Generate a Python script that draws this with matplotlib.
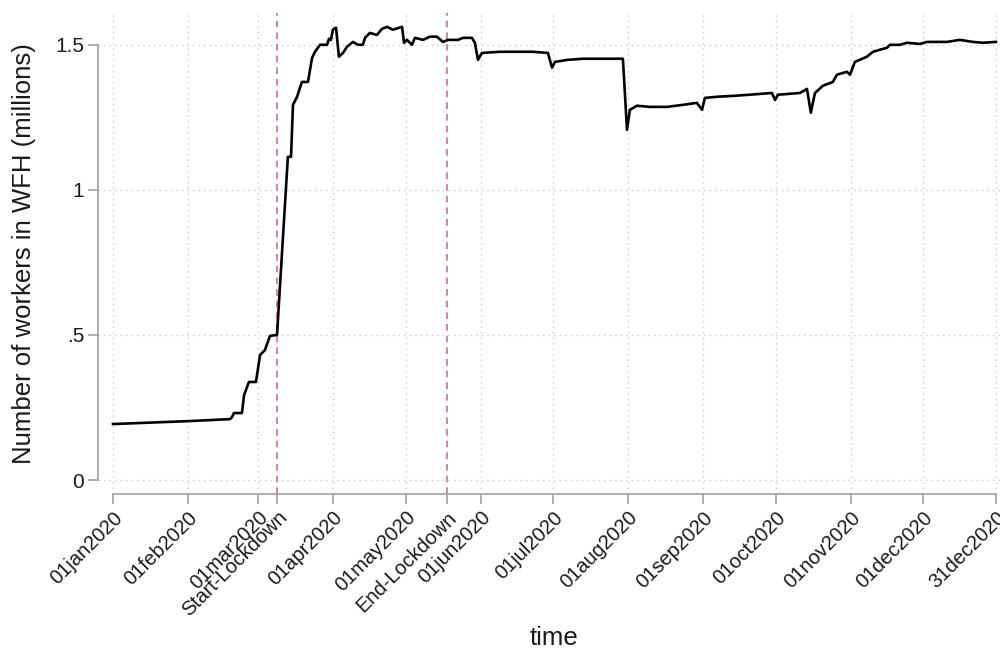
import numpy as np
import pandas as pd
import matplotlib
matplotlib.use("Agg")
import matplotlib.pyplot as plt

plt.rcParams['font.family'] = ['Liberation Sans', 'DejaVu Sans']

# --- data (days since 01jan2020, millions of WFH workers) ---
day = [0, 31, 48.4, 49.2, 50, 53.3, 54.2, 56.2, 59.1, 60.8, 62.8, 64.9, 67.8,
       72.3, 73.6, 74.4, 76.1, 78.1, 80.6, 82.3, 83.5, 85.6, 88.5, 89.3, 90.1,
       90.9, 92.2, 93.4, 95.1, 96.7, 99.2, 101.3, 103.3, 104.2, 106.2, 109.1,
       111.2, 113.3, 115.7, 119.5, 120.3, 121.5, 123.6, 124.8, 128.2, 131.0,
       133.9, 136.4, 138.5, 142.6, 144.7, 148.4, 149.6, 150.9, 152.5, 160.0,
       167.0, 173.6, 179.8, 181.5, 182.7, 187.7, 194.3, 210.8, 212.5, 213.7,
       216.6, 222.0, 229.0, 235.6, 241.4, 243.5, 244.7, 249.7, 256.3, 263.3,
       272.4, 273.7, 274.9, 284.0, 286.9, 288.5, 290.2, 293.5, 297.6, 299.3,
       303.4, 304.7, 306.7, 311.7, 314.2, 320.0, 321.2, 325.3, 328.2, 333.6,
       336.5, 344.8, 350.1, 355.5, 359.6, 365]
wfh = [0.193, 0.203, 0.210, 0.217, 0.231, 0.231, 0.293, 0.338, 0.338, 0.431,
       0.448, 0.497, 0.500, 1.114, 1.114, 1.293, 1.321, 1.372, 1.372, 1.455,
       1.476, 1.500, 1.500, 1.521, 1.517, 1.552, 1.559, 1.459, 1.472, 1.493,
       1.510, 1.500, 1.500, 1.524, 1.541, 1.534, 1.555, 1.562, 1.552, 1.562,
       1.507, 1.517, 1.500, 1.524, 1.517, 1.528, 1.528, 1.510, 1.517, 1.517,
       1.524, 1.524, 1.507, 1.448, 1.472, 1.476, 1.476, 1.476, 1.472, 1.421,
       1.441, 1.448, 1.452, 1.452, 1.207, 1.276, 1.290, 1.286, 1.286, 1.293,
       1.300, 1.276, 1.317, 1.321, 1.324, 1.328, 1.334, 1.310, 1.328, 1.334,
       1.348, 1.266, 1.334, 1.359, 1.372, 1.397, 1.407, 1.397, 1.441, 1.459,
       1.476, 1.490, 1.500, 1.500, 1.507, 1.503, 1.510, 1.510, 1.517, 1.510,
       1.507, 1.510]

tick_dates = ['2020-01-01', '2020-02-01', '2020-03-01', '2020-04-01', '2020-05-01',
              '2020-06-01', '2020-07-01', '2020-08-01', '2020-09-01', '2020-10-01',
              '2020-11-01', '2020-12-01', '2020-12-31']
lockdown_dates = ['2020-03-09', '2020-05-18']
lockdown_labels = ['Start-Lockdown', 'End-Lockdown']
yticks = [0, 0.5, 1, 1.5]
ylabels = ['0', '.5', '1', '1.5']

start = pd.Timestamp('2020-01-01')
tick_pos = [(pd.Timestamp(d) - start).days for d in tick_dates]
tick_lab = [pd.Timestamp(d).strftime('%d%b%Y').lower() for d in tick_dates]
lock_pos = [(pd.Timestamp(d) - start).days for d in lockdown_dates]

fig = plt.figure(figsize=(10, 6.51), dpi=100)
ax = fig.add_axes([0.098, 0.2412, 0.902, 0.739])

grid_kw = dict(color='#c8c8c8', linestyle=(0, (1, 3)), linewidth=1.0, zorder=0)
for p in tick_pos:
    ax.axvline(p, **grid_kw)
for v in yticks:
    ax.axhline(v, **grid_kw)

for p in lock_pos:
    ax.axvline(p, color='#d9669f', linestyle=(0, (4, 3)), linewidth=1.2, zorder=1)

ax.plot(day, wfh, color='black', linewidth=1.9, zorder=3)

ax.set_xlim(-6.2, 366.7)
ax.set_ylim(-0.048, 1.61)

all_pos = tick_pos + lock_pos
all_lab = tick_lab + lockdown_labels
ax.set_xticks(all_pos)
ax.set_xticklabels(all_lab, rotation=45, ha='right', rotation_mode='anchor')
ax.set_yticks(yticks)
ax.set_yticklabels(ylabels)

for s in ['top', 'right']:
    ax.spines[s].set_visible(False)
ax.spines['bottom'].set_bounds(0, 365)
ax.spines['left'].set_bounds(0, 1.5)
for s in ['bottom', 'left']:
    ax.spines[s].set_color('#a0a0a0')
    ax.spines[s].set_linewidth(1.2)

ax.tick_params(axis='both', direction='out', length=7, width=1.2, color='#a0a0a0',
               labelcolor='#1a1a1a', pad=3)
ax.tick_params(axis='x', labelsize=14.5)
ax.tick_params(axis='y', labelsize=15)

ax.set_ylabel('Number of workers in WFH (millions)', fontsize=18.5, color='#1a1a1a', labelpad=14)
ax.set_xlabel('time', fontsize=18.5, color='#1a1a1a')
ax.xaxis.set_label_coords(0.505, -0.275)

fig.savefig('out.png', dpi=100)
